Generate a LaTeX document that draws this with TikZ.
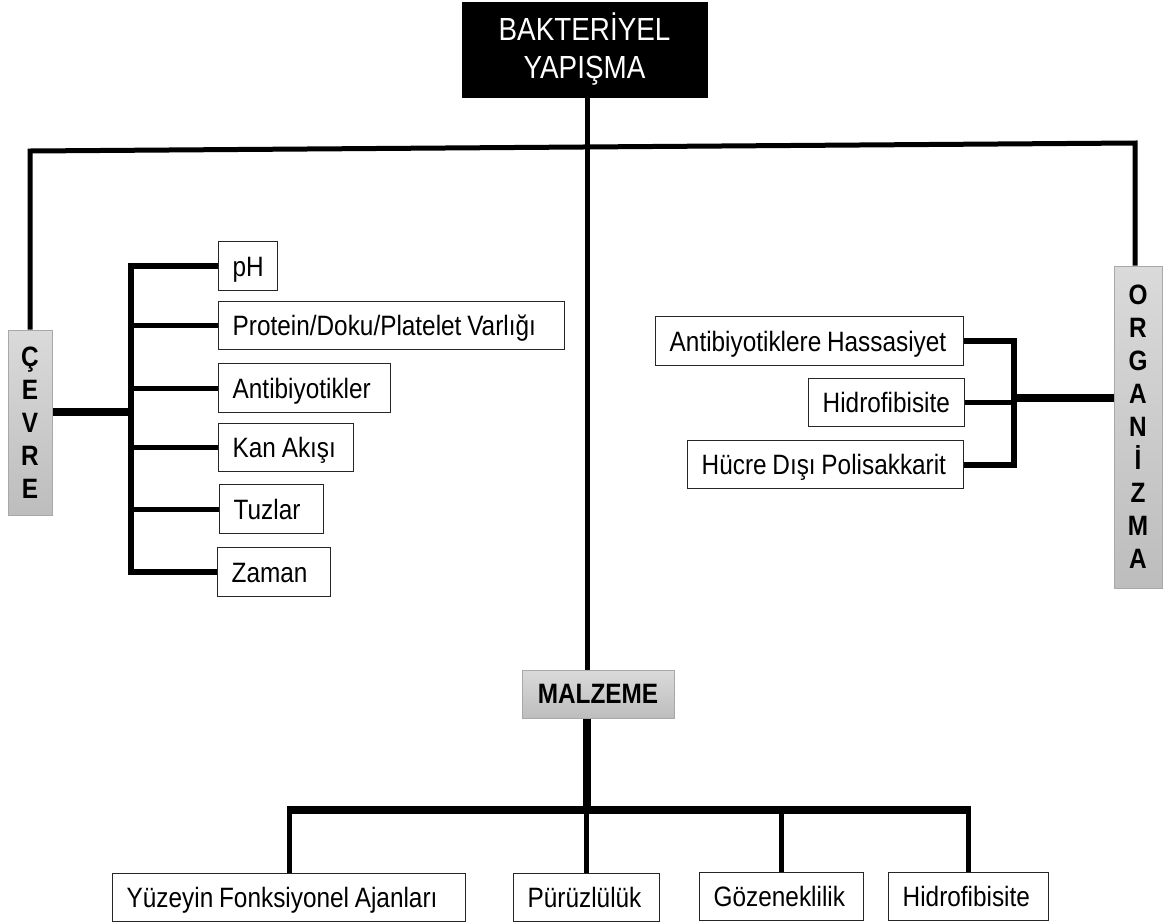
\documentclass[tikz,border=0pt]{standalone}
\usepackage{fontspec}
\setmainfont{Liberation Sans}[FakeStretch=0.87,WordSpace=0.85]
\definecolor{boxgrayT}{HTML}{DADADA}
\definecolor{boxgrayB}{HTML}{BDBDBD}
\definecolor{boxgrayL}{HTML}{A8A8A8}
\newcommand{\leaftext}[2]{\makebox[#1][l]{\hspace*{14pt}#2}}
\begin{document}
\begin{tikzpicture}[x=1pt,y=-1pt,
  leaf/.style={draw=black!85, line width=1.4pt, fill=white, inner xsep=0pt, inner ysep=0pt,
    minimum height=49pt, anchor=north west,
    text height=20pt, text depth=0pt,
    font=\fontsize{28}{32}\selectfont},
  graybox/.style={draw=boxgrayL, line width=1pt, top color=boxgrayT, bottom color=boxgrayB,
    inner sep=0pt, align=center},
  wire/.style={line width=5pt, line join=miter},
  bracketline/.style={line width=6pt, line join=miter},
  heavy/.style={line width=8pt}]
\useasboundingbox (0,0) rectangle (1164,922);

% coordinates
\coordinate (spine) at (587,0);
\coordinate (tl) at (0,151);
\coordinate (tr) at (0,143);
\coordinate (brL) at (131,0);
\coordinate (brR) at (1014,0);
\coordinate (bar) at (0,810);

% top node
\node[fill=black, draw=black, minimum width=245pt, minimum height=95pt, inner sep=0pt,
  text=white, align=center, font=\fontsize{32}{38}\selectfont] (title) at (584.5,49.5)
  {BAKTERİYEL\\YAPIŞMA};

% category boxes
\node[graybox, minimum width=44pt, minimum height=185pt,
  font=\bfseries\fontsize{28}{33}\selectfont] (cev) at (30,422.5) {Ç\\E\\V\\R\\E};
\node[graybox, minimum width=48pt, minimum height=322pt,
  font=\bfseries\fontsize{28}{33}\selectfont] (org) at (1138,427) {O\\R\\G\\A\\N\\İ\\Z\\M\\A};
\node[graybox, minimum width=152pt, minimum height=48pt,
  font=\bfseries\fontsize{28}{32}\selectfont] (malz) at (598,694) {MALZEME};

% left leaves
\node[leaf] (ph) at (218,241) {\leaftext{59pt}{pH}};
\node[leaf, minimum height=48pt] (prot) at (218,301) {\leaftext{346pt}{Protein/Doku/Platelet Varlığı}};
\node[leaf] (anti) at (218,363) {\leaftext{172pt}{Antibiyotikler}};
\node[leaf, minimum height=48pt] (kan) at (218,423) {\leaftext{135pt}{Kan Akışı}};
\node[leaf] (tuz) at (219,484) {\leaftext{104pt}{Tuzlar}};
\node[leaf] (zam) at (217,547) {\leaftext{113pt}{Zaman}};

% right leaves
\node[leaf] (antih) at (655,316) {\leaftext{308pt}{Antibiyotiklere Hassasiyet}};
\node[leaf, minimum height=48pt] (hid) at (808,378) {\leaftext{156pt}{Hidrofibisite}};
\node[leaf, minimum height=48pt] (huc) at (687,440) {\leaftext{276pt}{Hücre Dışı Polisakkarit}};

% bottom leaves
\node[leaf, minimum height=48pt] (yuz) at (112,873) {\leaftext{353pt}{Yüzeyin Fonksiyonel Ajanları}};
\node[leaf, minimum height=48pt] (pur) at (513,873) {\leaftext{146pt}{Pürüzlülük}};
\node[leaf, minimum height=48pt] (goz) at (699,872) {\leaftext{164pt}{Gözeneklilik}};
\node[leaf, minimum height=48pt] (hidb) at (888,872) {\leaftext{160pt}{Hidrofibisite}};

% main spine
\draw[wire] (title.south -| spine) -- (malz.north -| spine);
% top crossbar
\draw[wire] (cev.north) -- (cev.north |- tl) -- ([xshift=-3pt]org.north |- tr) -- ([xshift=-3pt]org.north);

% left bracket
\draw[heavy] ([yshift=10.5pt]cev.east) -- ([yshift=10.5pt]cev.east -| brL);
\draw[bracketline] (ph.west) -- (ph.west -| brL) -- (zam.west -| brL) -- (zam.west);
\draw[wire] (prot.west -| brL) -- (prot.west);
\draw[wire] (anti.west -| brL) -- (anti.west);
\draw[wire] (kan.west -| brL) -- (kan.west);
\draw[wire] (tuz.west -| brL) -- (tuz.west);

% right bracket
\draw[bracketline] (antih.east) -- (antih.east -| brR) -- (huc.east -| brR) -- (huc.east);
\draw[wire] (hid.east) -- (hid.east -| brR);
\draw[heavy] ([yshift=29pt]org.west) -- ([yshift=29pt]org.west -| brR);

% bottom tree
\draw[heavy] (malz.south -| spine) -- (spine |- bar);
\draw[heavy] ([xshift=-2.5pt]yuz.north |- bar) -- ([xshift=2.5pt]hidb.north |- bar);
\draw[wire] (yuz.north |- bar) -- (yuz.north);
\draw[wire] (pur.north |- bar) -- (pur.north);
\draw[wire] (goz.north |- bar) -- (goz.north);
\draw[wire] (hidb.north |- bar) -- (hidb.north);
\end{tikzpicture}
\end{document}
